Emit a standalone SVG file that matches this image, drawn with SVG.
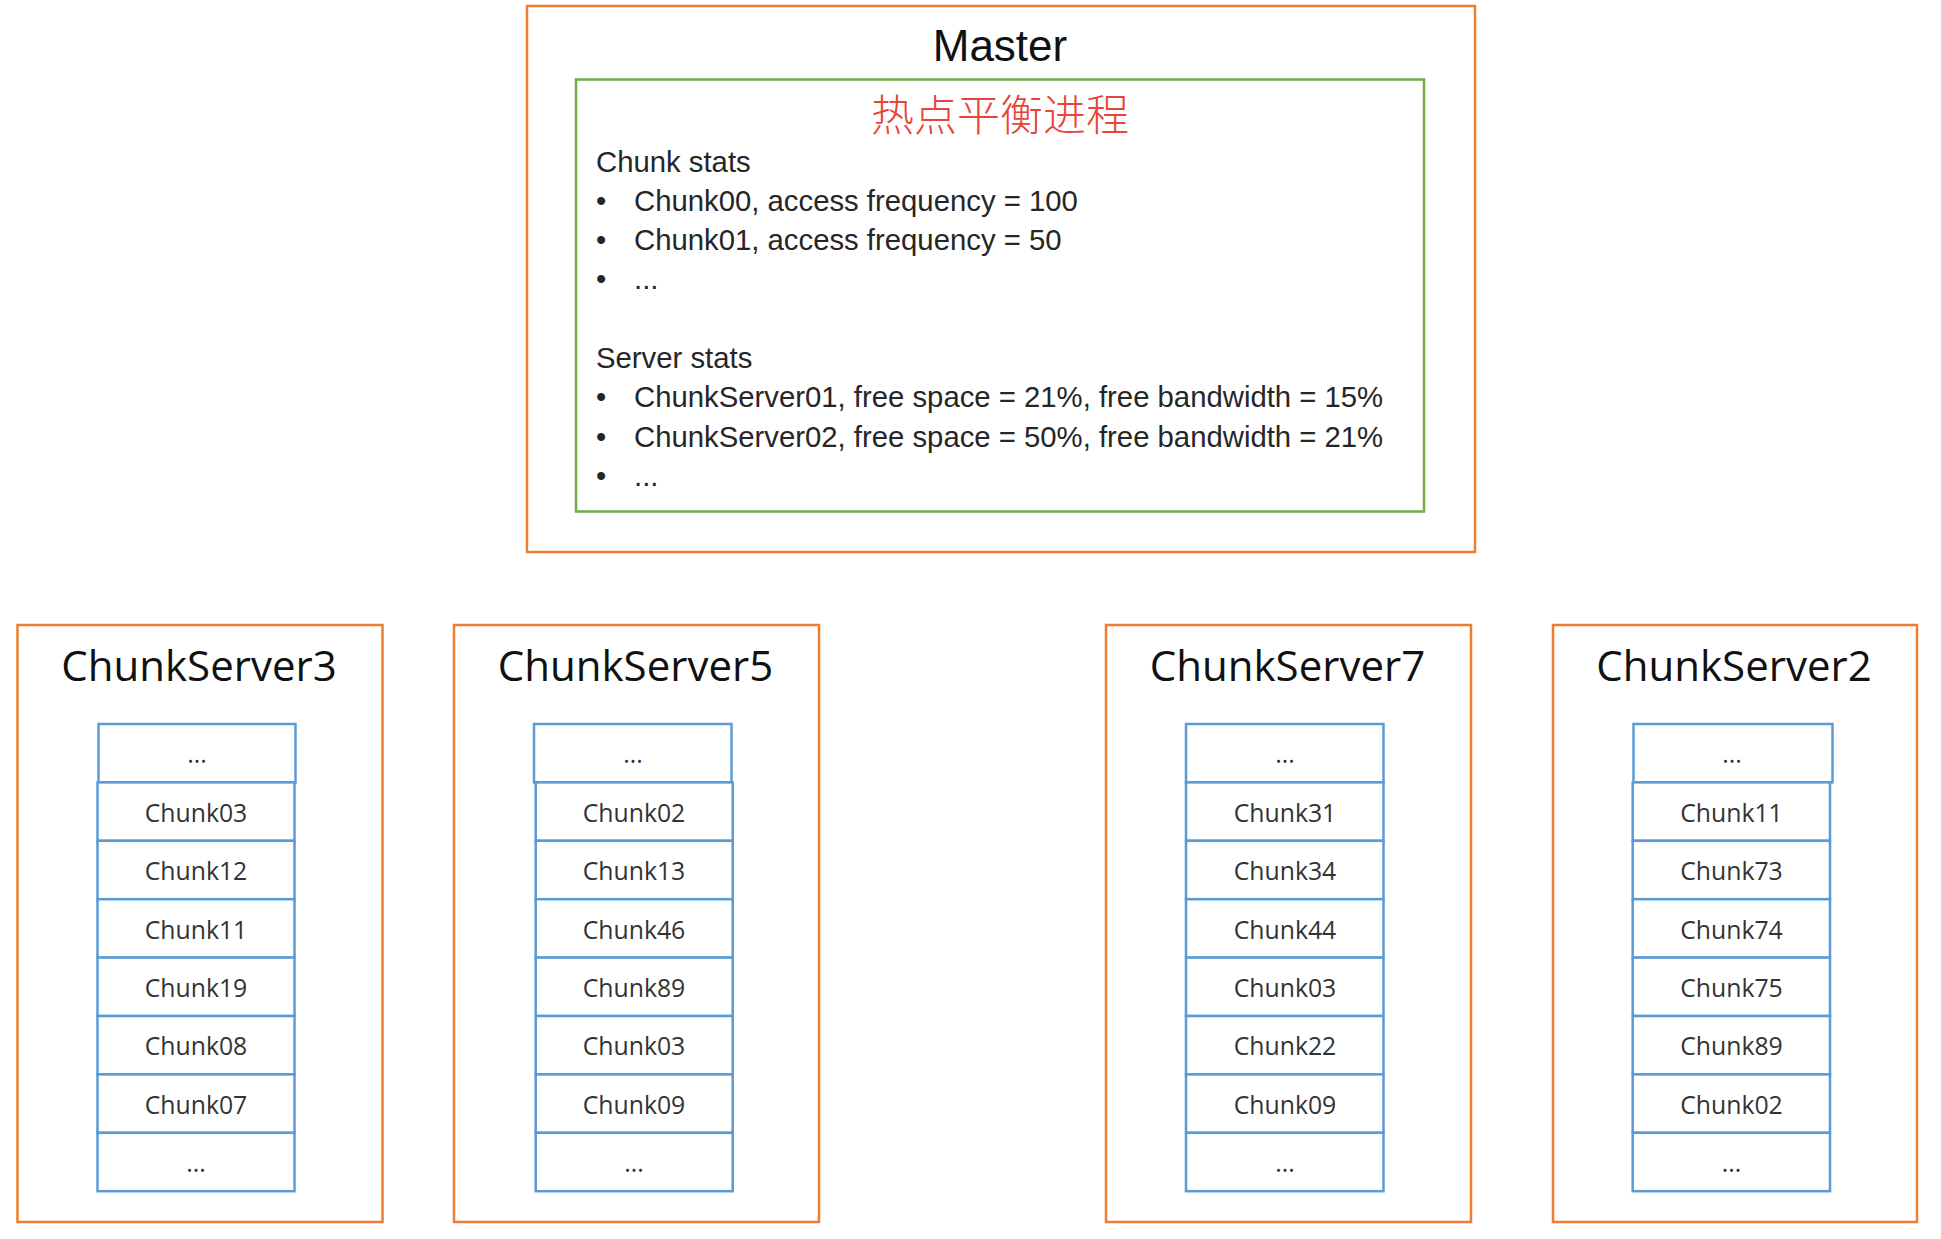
<svg xmlns="http://www.w3.org/2000/svg" width="1941" height="1239" viewBox="0 0 1941 1239">
<style>
.bg{fill:#ffffff}
.orange{fill:#ffffff;stroke:#ED7D31;stroke-width:2.5}
.green{fill:#ffffff;stroke:#70AD47;stroke-width:2.5}
.cell{fill:#ffffff;stroke:#5B9BD5;stroke-width:2.5}
.title{font-family:"Open Sans","DejaVu Sans",sans-serif;font-size:42px;fill:#111111;text-anchor:middle}
.master{font-family:"Liberation Sans",Arial,sans-serif;font-size:44px;fill:#111111;text-anchor:middle}
.cn{font-family:"Noto Sans CJK SC","Noto Sans",sans-serif;font-size:43px;font-weight:300;fill:#E8453A;text-anchor:middle}
.body{font-family:"Liberation Sans",Arial,sans-serif;font-size:29.3px;fill:#262626}
.chunk{font-family:"Open Sans","DejaVu Sans",sans-serif;font-size:24.8px;fill:#333333;text-anchor:middle}
</style>
<rect class="bg" x="0" y="0" width="1941" height="1239"/>

<g id="master">
  <rect class="orange" x="527" y="6" width="948" height="546"/>
  <text class="master" x="1000" y="61">Master</text>
  <g id="hotspot-balancer">
    <rect class="green" x="576" y="79.5" width="848" height="432"/>
    <text class="cn" x="1000" y="131">热点平衡进程</text>
    <text class="body" x="596" y="172">Chunk stats</text>
    <text class="body" x="596" y="211">•</text>
    <text class="body" x="634" y="211">Chunk00, access frequency = 100</text>
    <text class="body" x="596" y="250">•</text>
    <text class="body" x="634" y="250">Chunk01, access frequency = 50</text>
    <text class="body" x="596" y="289">•</text>
    <text class="body" x="634" y="289">...</text>
    <text class="body" x="596" y="368">Server stats</text>
    <text class="body" x="596" y="407">•</text>
    <text class="body" x="634" y="407">ChunkServer01, free space = 21%, free bandwidth = 15%</text>
    <text class="body" x="596" y="447">•</text>
    <text class="body" x="634" y="447">ChunkServer02, free space = 50%, free bandwidth = 21%</text>
    <text class="body" x="596" y="486">•</text>
    <text class="body" x="634" y="486">...</text>
  </g>
</g>

<g id="cs3">
  <rect class="orange" x="17.5" y="625" width="365" height="597"/>
  <text class="title" x="199" y="681">ChunkServer3</text>
  <rect class="cell" x="98.5" y="724" width="197" height="58.4"/>
  <rect class="cell" x="97.5" y="782.4" width="197" height="58.4"/>
  <rect class="cell" x="97.5" y="840.8" width="197" height="58.4"/>
  <rect class="cell" x="97.5" y="899.2" width="197" height="58.4"/>
  <rect class="cell" x="97.5" y="957.6" width="197" height="58.4"/>
  <rect class="cell" x="97.5" y="1016" width="197" height="58.4"/>
  <rect class="cell" x="97.5" y="1074.4" width="197" height="58.4"/>
  <rect class="cell" x="97.5" y="1132.8" width="197" height="58.4"/>
  <text class="chunk" x="197" y="763.3">...</text>
  <text class="chunk" x="196" y="821.7">Chunk03</text>
  <text class="chunk" x="196" y="880.1">Chunk12</text>
  <text class="chunk" x="196" y="938.5">Chunk11</text>
  <text class="chunk" x="196" y="996.9">Chunk19</text>
  <text class="chunk" x="196" y="1055.3">Chunk08</text>
  <text class="chunk" x="196" y="1113.7">Chunk07</text>
  <text class="chunk" x="196" y="1172.1">...</text>
</g>

<g id="cs5">
  <rect class="orange" x="454" y="625" width="365" height="597"/>
  <text class="title" x="635.5" y="681">ChunkServer5</text>
  <rect class="cell" x="534" y="724" width="197.5" height="58.4"/>
  <rect class="cell" x="535.7" y="782.4" width="197" height="58.4"/>
  <rect class="cell" x="535.7" y="840.8" width="197" height="58.4"/>
  <rect class="cell" x="535.7" y="899.2" width="197" height="58.4"/>
  <rect class="cell" x="535.7" y="957.6" width="197" height="58.4"/>
  <rect class="cell" x="535.7" y="1016" width="197" height="58.4"/>
  <rect class="cell" x="535.7" y="1074.4" width="197" height="58.4"/>
  <rect class="cell" x="535.7" y="1132.8" width="197" height="58.4"/>
  <text class="chunk" x="633" y="763.3">...</text>
  <text class="chunk" x="634" y="821.7">Chunk02</text>
  <text class="chunk" x="634" y="880.1">Chunk13</text>
  <text class="chunk" x="634" y="938.5">Chunk46</text>
  <text class="chunk" x="634" y="996.9">Chunk89</text>
  <text class="chunk" x="634" y="1055.3">Chunk03</text>
  <text class="chunk" x="634" y="1113.7">Chunk09</text>
  <text class="chunk" x="634" y="1172.1">...</text>
</g>

<g id="cs7">
  <rect class="orange" x="1106" y="625" width="365" height="597"/>
  <text class="title" x="1287.5" y="681">ChunkServer7</text>
  <rect class="cell" x="1186" y="724" width="197.5" height="58.4"/>
  <rect class="cell" x="1186" y="782.4" width="197.5" height="58.4"/>
  <rect class="cell" x="1186" y="840.8" width="197.5" height="58.4"/>
  <rect class="cell" x="1186" y="899.2" width="197.5" height="58.4"/>
  <rect class="cell" x="1186" y="957.6" width="197.5" height="58.4"/>
  <rect class="cell" x="1186" y="1016" width="197.5" height="58.4"/>
  <rect class="cell" x="1186" y="1074.4" width="197.5" height="58.4"/>
  <rect class="cell" x="1186" y="1132.8" width="197.5" height="58.4"/>
  <text class="chunk" x="1285" y="763.3">...</text>
  <text class="chunk" x="1285" y="821.7">Chunk31</text>
  <text class="chunk" x="1285" y="880.1">Chunk34</text>
  <text class="chunk" x="1285" y="938.5">Chunk44</text>
  <text class="chunk" x="1285" y="996.9">Chunk03</text>
  <text class="chunk" x="1285" y="1055.3">Chunk22</text>
  <text class="chunk" x="1285" y="1113.7">Chunk09</text>
  <text class="chunk" x="1285" y="1172.1">...</text>
</g>

<g id="cs2">
  <rect class="orange" x="1553" y="625" width="364" height="597"/>
  <text class="title" x="1734" y="681">ChunkServer2</text>
  <rect class="cell" x="1633.5" y="724" width="199" height="58.4"/>
  <rect class="cell" x="1632.7" y="782.4" width="197.3" height="58.4"/>
  <rect class="cell" x="1632.7" y="840.8" width="197.3" height="58.4"/>
  <rect class="cell" x="1632.7" y="899.2" width="197.3" height="58.4"/>
  <rect class="cell" x="1632.7" y="957.6" width="197.3" height="58.4"/>
  <rect class="cell" x="1632.7" y="1016" width="197.3" height="58.4"/>
  <rect class="cell" x="1632.7" y="1074.4" width="197.3" height="58.4"/>
  <rect class="cell" x="1632.7" y="1132.8" width="197.3" height="58.4"/>
  <text class="chunk" x="1732" y="763.3">...</text>
  <text class="chunk" x="1731.5" y="821.7">Chunk11</text>
  <text class="chunk" x="1731.5" y="880.1">Chunk73</text>
  <text class="chunk" x="1731.5" y="938.5">Chunk74</text>
  <text class="chunk" x="1731.5" y="996.9">Chunk75</text>
  <text class="chunk" x="1731.5" y="1055.3">Chunk89</text>
  <text class="chunk" x="1731.5" y="1113.7">Chunk02</text>
  <text class="chunk" x="1731.5" y="1172.1">...</text>
</g>

<g id="connectors"/>
</svg>
